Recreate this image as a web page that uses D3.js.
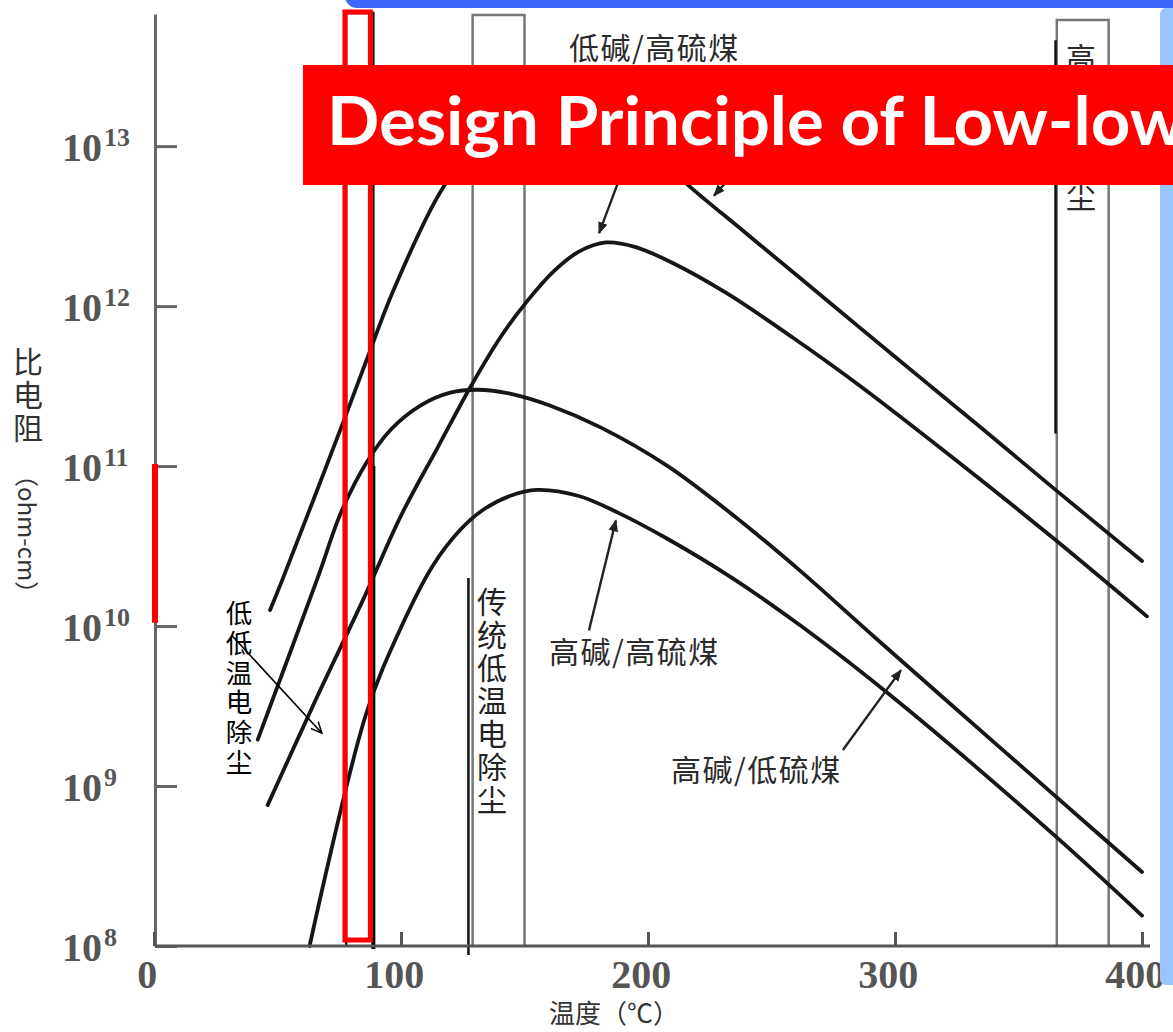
<!DOCTYPE html>
<html>
<head>
<meta charset="utf-8">
<script src="https://cdn.jsdelivr.net/npm/d3@7"></script>
<style>
  body { margin: 0; background: #fff; }
  svg { display: block; }
</style>
</head>
<body>
<svg id="chart" width="1173" height="1032"></svg>
<script>
// coal types
var coalTypes = ["低碱/低硫煤", "低碱/高硫煤", "高碱/低硫煤", "高碱/高硫煤"];

// temperature (°C) and resistivity (ohm-cm) for each curve
var tempLowAlkLowS  = [47, 52, 77, 86, 97, 117, 135, 150, 165, 185, 200, 216, 238, 260, 285, 310, 335, 365, 400];
var rhoLowAlkLowS   = [1.26e10, 1.95e10, 1.95e11, 4.57e11, 1.26e12, 5.5e12, 1.2e13, 1.78e13, 2.0e13, 1.58e13, 9.8e12, 5.75e12, 3.0e12, 1.57e12, 7.5e11, 3.6e11, 1.73e11, 7.1e10, 2.55e10];

var tempLowAlkHighS = [46, 66, 85, 100, 115, 128, 140, 151, 162, 172, 183, 195, 210, 232, 259, 286, 326, 364, 402];
var rhoLowAlkHighS  = [7.6e8, 3.6e9, 1.5e10, 4.9e10, 1.32e11, 3.1e11, 6.3e11, 1.07e12, 1.66e12, 2.19e12, 2.5e12, 2.34e12, 1.86e12, 1.2e12, 6.3e11, 3.16e11, 1.05e11, 3.55e10, 1.15e10];

var tempHighAlkLowS = [42, 66, 76, 86, 96, 108, 120, 131, 145, 160, 181, 208, 234, 262, 289, 319, 364, 400];
var rhoHighAlkLowS  = [1.95e9, 1.95e10, 5.25e10, 1.05e11, 1.7e11, 2.4e11, 2.88e11, 3.0e11, 2.82e11, 2.4e11, 1.74e11, 1.0e11, 5.0e10, 2.19e10, 9.3e9, 3.63e9, 8.9e8, 2.9e8];

var tempHighAlkHighS = [63, 86, 100, 113, 124, 133, 144, 155, 172, 188, 208, 234, 262, 300, 364, 400];
var rhoHighAlkHighS  = [1.0e8, 2.86e9, 9.8e9, 2.4e10, 4.0e10, 5.3e10, 6.5e10, 7.1e10, 6.5e10, 5.1e10, 3.5e10, 2.0e10, 1.0e10, 3.5e9, 5.0e8, 1.55e8];

// axes
var yTickValues = [1e8, 1e9, 1e10, 1e11, 1e12, 1e13];
var yTickExponents = ["8", "9", "10", "11", "12", "13"];
var xTickValues = [0, 100, 200, 300, 400];
var xTickLabels = ["0", "100", "200", "300", "400"];

// ESP temperature windows (°C)
var lowLowZone = [77.8, 88.8];
var highlightZone = [77.3, 87.6];
var traditionalZone = [129, 150];
var highTempZone = [365.5, 386.5];

// arrows [fromT, fromRho, toT, toRho]
var labelArrows = [
  [204.9, 2.99e13, 180.2, 2.86e12],
  [239.3, 8.1e12, 226.7, 4.9e12],
  [176.1, 9.4e9, 187, 4.57e10],
  [278.9, 1.68e9, 302.4, 5.3e9]
];
var espArrow = [31.6, 8.7e9, 68.0, 2.14e9];

var svg = d3.select("#chart");
var x = d3.scaleLinear().domain([0, 400]).range([154, 1142]);
var y = d3.scaleLog().domain([1e8, 6.7e13]).range([946, 14]);

var defs = svg.append("defs");
defs.append("marker")
    .attr("id", "head")
    .attr("viewBox", "0 0 10 10")
    .attr("refX", 9).attr("refY", 5)
    .attr("markerWidth", 5).attr("markerHeight", 5)
    .attr("orient", "auto")
    .append("path")
    .attr("d", "M0,1 L10,5 L0,9 Z")
    .attr("fill", "#222");
defs.append("marker")
    .attr("id", "openHead")
    .attr("viewBox", "0 0 12 12")
    .attr("refX", 11).attr("refY", 6)
    .attr("markerWidth", 12).attr("markerHeight", 12)
    .attr("markerUnits", "userSpaceOnUse")
    .attr("orient", "auto")
    .append("path")
    .attr("d", "M0,1 L11,6 L0,11")
    .attr("fill", "none")
    .attr("stroke", "#000")
    .attr("stroke-width", 1.5);

// zone boxes
var base = y(1e8);
function zoneBox(z, top, color) {
  svg.append("path")
      .attr("d", "M" + x(z[0]) + "," + base + "V" + top + "H" + x(z[1]) + "V" + base)
      .attr("fill", "none")
      .attr("stroke", color)
      .attr("stroke-width", 2.5);
}
zoneBox(traditionalZone, 15, "#777");
zoneBox(highTempZone, 20, "#777");
zoneBox(lowLowZone, 13, "#111");

// leader lines
svg.append("line")
    .attr("x1", x(127.3)).attr("x2", x(127.3))
    .attr("y1", y(2.0e10)).attr("y2", base + 9)
    .attr("stroke", "#111").attr("stroke-width", 2.5);
svg.append("line")
    .attr("x1", x(365)).attr("x2", x(365))
    .attr("y1", y(4.6e13)).attr("y2", y(1.6e11))
    .attr("stroke", "#111").attr("stroke-width", 2.5);
svg.append("line")
    .attr("x1", x(lowLowZone[1])).attr("x2", x(lowLowZone[1]))
    .attr("y1", y(1.0e11)).attr("y2", base + 3)
    .attr("stroke", "#000").attr("stroke-width", 4);

// curves
var curves = [
  { name: coalTypes[0], t: tempLowAlkLowS, r: rhoLowAlkLowS },
  { name: coalTypes[1], t: tempLowAlkHighS, r: rhoLowAlkHighS },
  { name: coalTypes[2], t: tempHighAlkLowS, r: rhoHighAlkLowS },
  { name: coalTypes[3], t: tempHighAlkHighS, r: rhoHighAlkHighS }
];
var line = d3.line()
    .x(function (d) { return x(d[0]); })
    .y(function (d) { return y(d[1]); })
    .curve(d3.curveCatmullRom.alpha(0.5));

svg.append("g").selectAll("path")
    .data(curves)
    .join("path")
    .attr("d", function (c) { return line(d3.zip(c.t, c.r)); })
    .attr("fill", "none")
    .attr("stroke", "#161616")
    .attr("stroke-width", 3.8)
    .attr("stroke-linecap", "round");

// label arrows
svg.append("g").selectAll("line")
    .data(labelArrows)
    .join("line")
    .attr("x1", function (a) { return x(a[0]); })
    .attr("y1", function (a) { return y(a[1]); })
    .attr("x2", function (a) { return x(a[2]); })
    .attr("y2", function (a) { return y(a[3]); })
    .attr("stroke", "#222")
    .attr("stroke-width", 2.4)
    .attr("marker-end", "url(#head)");

svg.append("line")
    .attr("x1", x(espArrow[0])).attr("y1", y(espArrow[1]))
    .attr("x2", x(espArrow[2])).attr("y2", y(espArrow[3]))
    .attr("stroke", "#000").attr("stroke-width", 1.6)
    .attr("marker-end", "url(#openHead)");

// horizontal coal labels
var cjk = "'Noto Sans CJK SC', sans-serif";
var coalLabels = [
  { text: coalTypes[1], x: 569, y: 59 },
  { text: coalTypes[3], x: 549, y: 663 },
  { text: coalTypes[2], x: 671, y: 781 }
];
svg.append("g").selectAll("text")
    .data(coalLabels)
    .join("text")
    .attr("x", function (d) { return d.x; })
    .attr("y", function (d) { return d.y; })
    .style("font-family", cjk)
    .style("font-size", "30px")
    .style("letter-spacing", "1.5px")
    .style("fill", "#2b2b2b")
    .text(function (d) { return d.text; });

// vertical labels written top to bottom
function verticalText(str, cx, firstY, step, size, color) {
  svg.append("text")
      .attr("x", cx)
      .attr("y", firstY - size / 2)
      .style("writing-mode", "vertical-rl")
      .style("font-family", cjk)
      .style("font-size", size + "px")
      .style("letter-spacing", (step - size) + "px")
      .style("fill", color)
      .text(str);
}
verticalText("低低温电除尘", 239, 613, 29.8, 26.5, "#000");
verticalText("传统低温电除尘", 492, 602, 33, 30, "#222");
// the middle characters of 高温电除尘 sit under the title banner
verticalText("高", 1081, 58, 34.7, 30, "#2b2b2b");
verticalText("尘", 1081, 197, 34.7, 30, "#2b2b2b");

// y axis
var yAxis = d3.axisLeft(y)
    .tickValues(yTickValues)
    .tickSizeInner(-22)
    .tickSizeOuter(0)
    .tickPadding(20)
    .tickFormat("");
var gy = svg.append("g")
    .attr("transform", "translate(155,0)")
    .call(yAxis);
gy.select(".domain").attr("stroke", "#666").attr("stroke-width", 3);
gy.selectAll(".tick line").attr("stroke", "#666").attr("stroke-width", 3);
gy.selectAll(".tick text")
    .attr("text-anchor", "start")
    .attr("x", -93)
    .attr("dy", "0.36em")
    .style("font-family", "'Liberation Serif', serif")
    .style("font-size", "40px")
    .style("font-weight", "bold")
    .style("fill", "#555")
    .each(function (d, i) {
      var t = d3.select(this);
      t.text("10");
      t.append("tspan")
          .attr("dx", "2")
          .attr("dy", "-15")
          .style("font-size", "26px")
          .text(yTickExponents[i]);
    });

// x axis
var xAxis = d3.axisBottom(x)
    .tickValues(xTickValues)
    .tickSizeInner(-14)
    .tickSizeOuter(0)
    .tickPadding(14)
    .tickFormat(function (d, i) { return xTickLabels[i]; });
var gx = svg.append("g")
    .attr("transform", "translate(0," + base + ")")
    .call(xAxis);
gx.select(".domain").attr("d", "M155,0H1150").attr("stroke", "#555").attr("stroke-width", 3);
gx.selectAll(".tick line").attr("stroke", "#555").attr("stroke-width", 3);
gx.selectAll(".tick text")
    .attr("dx", "-0.18em")
    .style("font-family", "'Liberation Serif', serif")
    .style("font-size", "40px")
    .style("font-weight", "bold")
    .style("fill", "#555");

// axis titles
verticalText("比电阻", 28, 362, 33, 30, "#333");
svg.append("text")
    .attr("transform", "translate(18,463) rotate(90)")
    .style("font-family", cjk)
    .style("font-size", "24px")
    .style("fill", "#333")
    .text("（ohm-cm）");
svg.append("text")
    .attr("x", 549)
    .attr("y", 1023)
    .style("font-family", cjk)
    .style("font-size", "26px")
    .style("fill", "#333")
    .text("温度（℃）");

// red highlights
svg.append("rect")
    .attr("x", x(highlightZone[0]))
    .attr("y", 12)
    .attr("width", x(highlightZone[1]) - x(highlightZone[0]))
    .attr("height", y(1e8) - 6 - 12)
    .attr("fill", "none")
    .attr("stroke", "#ff0000")
    .attr("stroke-width", 5);
svg.append("line")
    .attr("x1", 155).attr("x2", 155)
    .attr("y1", y(1e11) - 2).attr("y2", y(1.05e10))
    .attr("stroke", "#ff0000").attr("stroke-width", 6);

// slide decoration
svg.append("rect")
    .attr("x", 345).attr("y", -30)
    .attr("width", 900).attr("height", 38)
    .attr("rx", 12)
    .attr("fill", "#3b68fb");
svg.append("rect")
    .attr("x", 1160).attr("y", 8)
    .attr("width", 30).attr("height", 977)
    .attr("rx", 6)
    .attr("fill", "#98c4ff");

svg.append("rect")
    .attr("x", 303).attr("y", 65)
    .attr("width", 880).attr("height", 120)
    .attr("fill", "#ff0000");
svg.append("text")
    .attr("x", 327)
    .attr("y", 145)
    .attr("textLength", 858)
    .attr("lengthAdjust", "spacingAndGlyphs")
    .style("font-family", "Lato, 'Open Sans', sans-serif")
    .style("font-weight", "bold")
    .style("font-size", "66px")
    .style("fill", "#fff")
    .text("Design Principle of Low-low");
</script>
</body>
</html>
